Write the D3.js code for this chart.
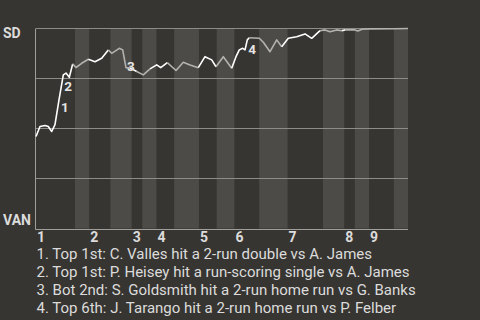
<!DOCTYPE html>
<html>
<head>
<meta charset="utf-8">
<script src="https://cdn.jsdelivr.net/npm/d3@7"></script>
<style>
  html, body { margin: 0; padding: 0; background: #373531; }
  svg { display: block; font-family: Roboto, "Noto Sans", sans-serif; }
</style>
</head>
<body>
<div class="graph"></div>
<script>
// plate appearances per half inning (top 1st, bot 1st, top 2nd ...)
let halfPA = [11, 4, 6, 6, 3, 4, 5, 7, 5, 5, 7, 8, 10, 6, 3, 4, 7, 4];
let innings = ["1", "2", "3", "4", "5", "6", "7", "8", "9"];

// game progress (PA units) and SD win probability (%)
let evt = [0, 1.13, 2.54, 3.47, 4.43, 5.36, 6.49, 7.71, 8.47, 9.4, 10.36,
  11.29, 12.9, 14.76, 16.65, 18.54, 20.41, 21.37, 23.51, 24.47, 25.4, 26.53,
  28.42, 30.29, 32.18, 34.07, 35.2, 37.06, 39.52, 41.58, 43.47, 45.81, 47.7,
  49.59, 50.81, 52.87, 55.24, 56.45, 57.38, 58.34, 59.0, 59.64, 60.21, 63.03,
  64.16, 66.05, 67.94, 69.35, 71.21, 73.58, 75.93, 77.82, 80.16, 81.57, 82.98,
  84.87, 86.28, 87.21, 90.03, 90.88, 92.0, 93.69, 101.3, 105];
let sdWin = [46.0, 51.0, 51.5, 51.0, 48.5, 51.9, 64.3, 76.8, 77.7, 75.6, 82.3,
  80.5, 82.6, 84.6, 83.4, 85.1, 89.3, 87.6, 90.1, 89.3, 80.4, 80.3,
  78.5, 76.8, 79.8, 81.8, 80.4, 82.9, 79.0, 83.1, 81.8, 80.4, 85.9,
  84.3, 80.9, 85.9, 80.1, 85.9, 89.3, 90.1, 89.3, 94.3, 95.4, 95.1,
  93.1, 88.4, 94.3, 90.9, 95.1, 95.9, 97.3, 95.1, 98.9, 99.3, 98.4,
  99.3, 98.9, 99.3, 99.3, 98.8, 99.6, 99.8, 99.9, 100];

// key plays: which point, label offset
let noteIdx = [6, 7, 20, 41];
let noteDx = [2, 1, 1, 1];
let noteDy = [12, 16, 3.5, 14];
let notes = [
  "1. Top 1st: C. Valles hit a 2-run double vs A. James",
  "2. Top 1st: P. Heisey hit a run-scoring single vs A. James",
  "3. Bot 2nd: S. Goldsmith hit a 2-run home run vs G. Banks",
  "4. Top 6th: J. Tarango hit a 2-run home run vs P. Felber"
];

let w = 480, h = 320;
let svg = d3.select(".graph").append("svg").attr("width", w).attr("height", h);
svg.append("rect").attr("width", w).attr("height", h).attr("fill", "#373531");

let bounds = [0];
halfPA.forEach(n => bounds.push(bounds[bounds.length - 1] + n));
let total = bounds[bounds.length - 1];

let x = d3.scaleLinear().domain([0, total]).range([36, 408]);
let y = d3.scaleLinear().domain([0, 100]).range([228.5, 28.5]);

// bottom half innings shaded
svg.selectAll("rect.band")
  .data(halfPA.map((n, i) => i).filter(i => i % 2 == 1))
  .enter()
  .append("rect")
  .attr("class", "band")
  .attr("x", i => x(bounds[i]))
  .attr("width", i => x(bounds[i + 1]) - x(bounds[i]))
  .attr("y", y(100))
  .attr("height", y(0) - y(100))
  .attr("fill", "#4d4b48");

svg.selectAll("line.grid")
  .data([25, 50, 75, 100])
  .enter()
  .append("line")
  .attr("x1", x(0)).attr("x2", x(total))
  .attr("y1", d => y(d)).attr("y2", d => y(d))
  .attr("stroke", "#8e8c89")
  .attr("stroke-width", 1);

// axes lines
svg.append("line")
  .attr("x1", x(0) - 0.5).attr("x2", x(0) - 0.5)
  .attr("y1", y(100)).attr("y2", y(0) + 1)
  .attr("stroke", "#a09e9b");
svg.append("line")
  .attr("x1", x(0) - 0.5).attr("x2", x(total))
  .attr("y1", y(0) + 1).attr("y2", y(0) + 1)
  .attr("stroke", "#a09e9b");

// win probability line, white while SD bats, grey while VAN bats
let pts = evt.map((e, i) => [e, sdWin[i]]);
let line = d3.line().x(d => x(d[0])).y(d => y(d[1]));
halfPA.forEach(function (n, i) {
  let lo = bounds[i], hi = bounds[i + 1];
  let seg = [];
  pts.forEach(function (p, j) {
    if (p[0] > lo && p[0] <= hi) {
      if (seg.length == 0 && j > 0) seg.push(pts[j - 1]);
      seg.push(p);
    }
  });
  if (seg.length < 2) return;
  svg.append("path")
    .attr("d", line(seg))
    .attr("fill", "none")
    .attr("stroke", i % 2 == 0 ? "#ffffff" : "#b4b2ae")
    .attr("stroke-width", 1.6)
    .attr("stroke-linejoin", "round");
});

svg.selectAll("text.note")
  .data(noteIdx)
  .enter()
  .append("text")
  .attr("x", (d, i) => x(evt[d]) + noteDx[i])
  .attr("y", (d, i) => y(sdWin[d]) + noteDy[i])
  .attr("fill", "#e4e4e4")
  .attr("font-size", 13.5)
  .attr("font-weight", "bold")
  .text((d, i) => i + 1);

svg.append("text").attr("x", 3).attr("y", 38)
  .attr("fill", "#dcdcdc").attr("font-size", 14).attr("font-weight", "bold")
  .text("SD");
svg.append("text").attr("x", 3).attr("y", 225)
  .attr("fill", "#dcdcdc").attr("font-size", 14).attr("font-weight", "bold")
  .text("VAN");

svg.selectAll("text.inning")
  .data(innings)
  .enter()
  .append("text")
  .attr("x", (d, i) => x(bounds[i * 2]) + 1)
  .attr("y", 241.5)
  .attr("fill", "#dcdcdc")
  .attr("font-size", 14)
  .attr("font-weight", "bold")
  .text(d => d);

svg.selectAll("text.foot")
  .data(notes)
  .enter()
  .append("text")
  .attr("x", 36.5)
  .attr("y", (d, i) => 258.5 + i * 18)
  .attr("fill", "#dcdcdc")
  .attr("font-size", 15)
  .text(d => d);
</script>
</body>
</html>
